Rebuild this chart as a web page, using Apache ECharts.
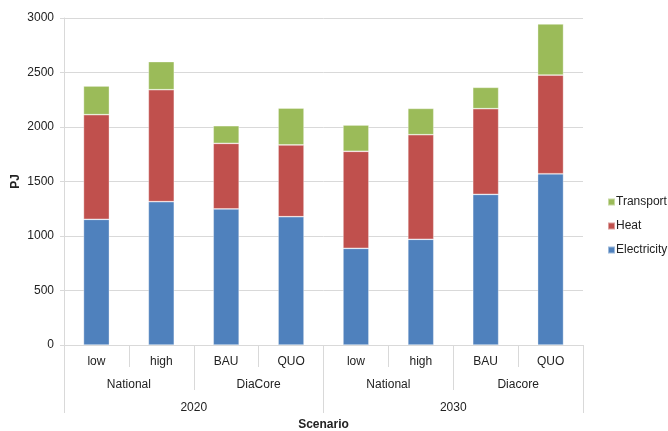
<!DOCTYPE html>
<html>
<head>
<meta charset="utf-8">
<script src="https://cdn.jsdelivr.net/npm/echarts@6/dist/echarts.min.js"></script>
<style>
  html, body { margin: 0; padding: 0; background: #ffffff; }
  #chart { width: 668px; height: 431px; }
</style>
</head>
<body>
<div id="chart"></div>
<script>
// Scenario hierarchy: scenario / model / year
const scenarios = ['low', 'high', 'BAU', 'QUO', 'low', 'high', 'BAU', 'QUO'];
const models = ['National', 'DiaCore', 'National', 'Diacore'];
const years = ['2020', '2030'];

// Energy demand per sector (PJ)
const electricity = [1153, 1315, 1248, 1177, 887, 970, 1382, 1571];
const heat = [960, 1027, 602, 658, 890, 959, 786, 906];
const transport = [263, 258, 162, 339, 241, 242, 196, 468];

const yTicks = { min: 0, max: 3000, interval: 500 };

const gridGray = '#d9d9d9';
const textColor = '#222222';
const fontFamily = '"Liberation Sans", Arial, sans-serif';

const chart = echarts.init(document.getElementById('chart'), null, { renderer: 'canvas' });

function bandAxis(data, tickLen, labelMargin, extra) {
  return Object.assign({
    type: 'category',
    data: data,
    position: 'bottom',
    gridIndex: 0,
    axisLine: { show: false },
    axisTick: { show: true, interval: 0, length: tickLen, lineStyle: { color: gridGray, width: 1 } },
    axisLabel: { interval: 0, margin: labelMargin, color: textColor, fontSize: 12, fontFamily: fontFamily },
    splitLine: { show: false }
  }, extra || {});
}

const barStyle = (color) => ({
  color: color,
  borderColor: 'rgba(255,255,255,0.45)',
  borderWidth: 0.75
});

chart.setOption({
  backgroundColor: '#ffffff',
  animation: false,
  textStyle: { fontFamily: fontFamily },
  grid: { left: 64, right: 85, top: 18, bottom: 86, containLabel: false, outerBoundsMode: 'none' },
  legend: {
    orient: 'vertical',
    left: 607,
    top: 196,
    padding: 0,
    itemWidth: 7,
    itemHeight: 7,
    itemGap: 12,
    icon: 'rect',
    data: ['Transport', 'Heat', 'Electricity'],
    textStyle: { color: textColor, fontSize: 12, fontFamily: fontFamily, padding: [0, 0, 0, -4] }
  },
  xAxis: [
    bandAxis(scenarios, 22, 11, {
      axisLine: { show: true, lineStyle: { color: gridGray, width: 1 } },
      name: 'Scenario',
      nameLocation: 'middle',
      nameGap: 74,
      nameMoveOverlap: false,
      nameTextStyle: { fontWeight: 'bold', color: textColor, fontSize: 12, fontFamily: fontFamily, verticalAlign: 'top' }
    }),
    bandAxis(models, 45, 34),
    bandAxis(years, 68, 57)
  ],
  yAxis: {
    type: 'value',
    min: yTicks.min,
    max: yTicks.max,
    interval: yTicks.interval,
    name: 'PJ',
    nameLocation: 'middle',
    nameGap: 42,
    nameRotate: 90,
    nameMoveOverlap: false,
    nameTextStyle: { fontWeight: 'bold', color: textColor, fontSize: 12, fontFamily: fontFamily },
    axisLine: { show: true, lineStyle: { color: gridGray, width: 1 } },
    axisTick: { show: true, length: 4, lineStyle: { color: gridGray } },
    axisLabel: { margin: 10, color: textColor, fontSize: 12, fontFamily: fontFamily, formatter: (v) => String(v) },
    splitLine: { show: true, lineStyle: { color: gridGray, width: 1 } }
  },
  series: [
    { name: 'Electricity', type: 'bar', stack: 'total', xAxisIndex: 0, barWidth: '40%', data: electricity, itemStyle: barStyle('#4f81bd') },
    { name: 'Heat', type: 'bar', stack: 'total', xAxisIndex: 0, barWidth: '40%', data: heat, itemStyle: barStyle('#c0504d') },
    { name: 'Transport', type: 'bar', stack: 'total', xAxisIndex: 0, barWidth: '40%', data: transport, itemStyle: barStyle('#9bbb59') }
  ]
});
</script>
</body>
</html>
